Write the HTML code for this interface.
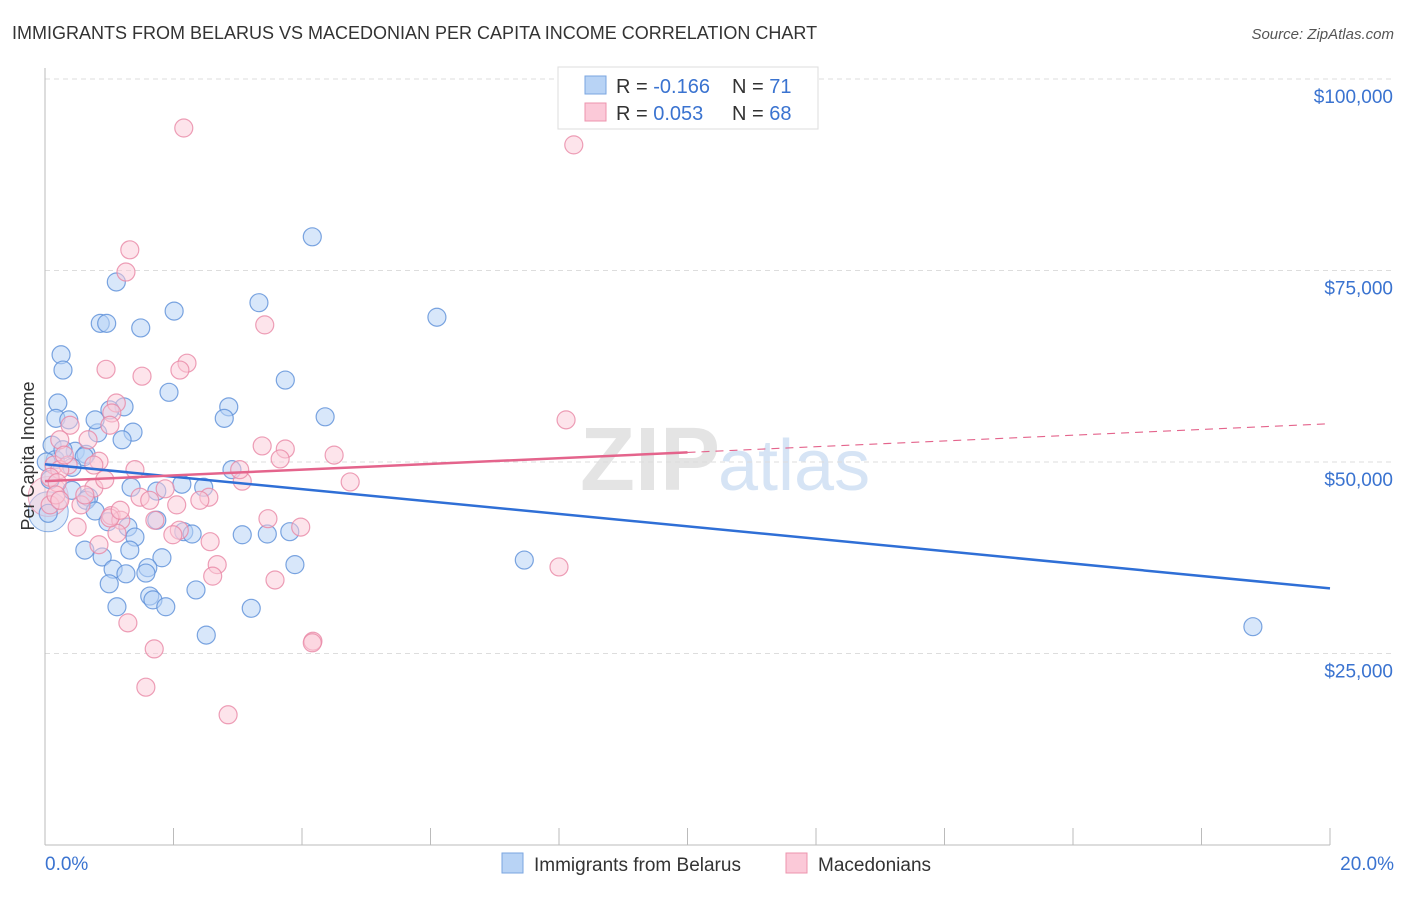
<!DOCTYPE html>
<html><head><meta charset="utf-8"><style>
body{margin:0;background:#fff;font-family:"Liberation Sans",sans-serif}
svg text{font-family:"Liberation Sans",sans-serif}
</style></head><body>
<svg id="chart" width="1406" height="892" viewBox="0 0 1406 892">
<text x="12" y="39" font-size="18" fill="#333">IMMIGRANTS FROM BELARUS VS MACEDONIAN PER CAPITA INCOME CORRELATION CHART</text>
<text x="1394" y="39" font-size="15" fill="#555" font-style="italic" text-anchor="end">Source: ZipAtlas.com</text>
<text x="720" y="490" font-size="90" fill="#e4e4e4" text-anchor="end" font-family="Liberation Serif" font-weight="bold">ZIP</text>
<text x="718" y="490" font-size="72" fill="#d6e4f5">atlas</text>
<g id="grid"></g>
<g id="axes"></g>
<g id="pts"></g>
<g id="trends"></g>
<text x="34" y="456" font-size="18" fill="#333" text-anchor="middle" transform="rotate(-90 34 456)">Per Capita Income</text>
<g>
<rect x="558" y="67" width="260" height="62" fill="#fff" stroke="#ddd"/>
<rect x="585" y="76" width="21" height="18" fill="#b8d3f5" stroke="#7aa6e0"/>
<rect x="585" y="103" width="21" height="18" fill="#fbc9d8" stroke="#ec94ae"/>
<text x="616" y="93" font-size="20" fill="#333">R = <tspan fill="#3a73d0">-0.166</tspan></text>
<text x="732" y="93" font-size="20" fill="#333">N = <tspan fill="#3a73d0"> 71</tspan></text>
<text x="616" y="120" font-size="20" fill="#333">R = <tspan fill="#3a73d0"> 0.053</tspan></text>
<text x="732" y="120" font-size="20" fill="#333">N = <tspan fill="#3a73d0">68</tspan></text>
</g>
<g>
<rect x="502" y="853" width="21" height="20" fill="#b8d3f5" stroke="#7aa6e0"/>
<text x="534" y="871" font-size="19" fill="#333">Immigrants from Belarus</text>
<rect x="786" y="853" width="21" height="20" fill="#fbc9d8" stroke="#ec94ae"/>
<text x="818" y="871" font-size="19" fill="#333">Macedonians</text>
</g>
</svg>
<script>
const yTicks=[25000,50000,75000,100000];
const yTickLabels=["$25,000","$50,000","$75,000","$100,000"];
const xTickLabels=["0.0%","20.0%"];
const blueX=[4.16,1.11,3.33,2.01,0.86,0.96,1.49,6.10,0.25,0.28,3.74,1.93,0.20,1.23,2.86,2.79,4.36,0.17,0.37,0.82,1.37,1.20,0.11,0.47,0.64,0.61,0.16,2.91,2.13,1.34,2.47,0.42,1.74,0.68,0.64,1.74,1.29,0.78,2.16,2.29,3.07,3.46,3.81,1.40,0.89,1.82,7.46,1.06,1.60,3.89,1.26,1.57,1.00,2.35,1.63,1.68,1.12,1.88,3.21,2.51,18.80,0.05,0.02,0.08,0.78,0.42,0.98,0.28,0.62,1.32,1.01];
const blueY=[79.4,73.5,70.8,69.7,68.1,68.1,67.5,68.9,64.0,62.0,60.7,59.1,57.7,57.2,57.2,55.7,55.9,55.7,55.5,53.8,53.9,52.9,52.2,51.4,51.0,50.7,50.3,49.0,47.1,46.7,46.7,46.3,46.2,45.4,45.0,42.4,41.5,43.6,40.9,40.6,40.5,40.6,40.9,40.2,37.6,37.5,37.2,36.0,36.2,36.6,35.4,35.5,34.1,33.3,32.5,32.0,31.1,31.1,30.9,27.4,28.5,43.3,50.0,47.7,55.5,49.3,42.2,51.6,38.5,38.5,56.8];
const pinkX=[2.16,8.23,1.32,1.26,3.42,2.21,0.95,1.51,2.10,1.11,1.04,8.11,1.01,0.39,0.23,3.38,3.74,3.66,4.50,0.14,0.36,0.84,0.76,0.23,0.08,0.19,4.75,3.07,0.76,2.55,1.87,1.48,2.05,0.56,0.62,1.03,1.18,1.71,0.08,3.47,3.98,2.09,0.50,1.12,2.57,0.84,2.68,8.00,2.61,3.58,1.29,4.17,4.16,1.70,1.57,2.85,1.01,1.63,2.41,0.30,0.67,1.99,3.03,1.40,0.17,0.93,0.23,1.17];
const pinkY=[93.6,91.4,77.7,74.8,67.9,62.9,62.1,61.2,62.0,57.7,56.4,55.5,54.8,54.8,52.9,52.1,51.7,50.4,50.9,49.6,49.6,50.1,49.6,49.0,48.0,47.3,47.4,47.5,46.6,45.4,46.5,45.4,44.4,44.4,45.7,43.0,42.4,42.4,44.4,42.6,41.5,41.1,41.5,40.7,39.6,39.2,36.6,36.3,35.1,34.6,29.0,26.6,26.4,25.6,20.6,17.0,42.7,45.0,45.0,50.9,52.9,40.5,49.0,49.0,45.7,47.7,45.0,43.7];
const blueTrend=[49.7,-0.81];
const pinkTrend=[47.5,0.375];
const NS="http://www.w3.org/2000/svg";
const X=v=>45+v*64.25, Y=v=>845-v*7.66;
function mk(tag,attrs,parent){const e=document.createElementNS(NS,tag);for(const k in attrs)e.setAttribute(k,attrs[k]);parent.appendChild(e);return e;}
const grid=document.getElementById('grid'),axes=document.getElementById('axes'),pts=document.getElementById('pts'),tr=document.getElementById('trends');
yTicks.forEach((t,i)=>{const y=Y(t/1000);
const g=mk('line',{x1:45,x2:1394,y1:y,y2:y,stroke:'#ddd','stroke-dasharray':'5,4'},grid);


const l=mk('text',{x:1393,y:y+24,'font-size':19,fill:'#3a73d0','text-anchor':'end'},grid);l.textContent=yTickLabels[i];

});
const gt=mk('line',{x1:45,x2:1394,y1:Y(100)-0,y2:Y(100),stroke:'#ddd','stroke-dasharray':'5,4'},grid);
mk('line',{x1:45,x2:45,y1:68,y2:845,stroke:'#bbb'},axes);
mk('line',{x1:45,x2:1330,y1:845,y2:845,stroke:'#bbb'},axes);
for(let i=0;i<=10;i++){const t=mk('line',{x1:X(i*2),x2:X(i*2),y1:828,y2:845,stroke:'#bbb'},axes);

}
[[0,'start',45],[20,'end',1394]].forEach((a,i)=>{const l=mk('text',{x:a[2],y:870,'font-size':19,fill:'#3a73d0','text-anchor':a[1]},axes);l.textContent=xTickLabels[i];

});
function big(x,y,fill,stroke){const c=mk('circle',{cx:X(x),cy:Y(y),r:20,fill:fill,'fill-opacity':0.45,stroke:stroke,'stroke-opacity':0.7},pts);

}
big(0.05,43.5,'#b8d3f5','#5b8fd8');big(0.05,45.5,'#fbc9d8','#e887a5');
blueX.forEach((x,i)=>{const c=mk('circle',{cx:X(x),cy:Y(blueY[i]),r:9,fill:'#b8d3f5','fill-opacity':0.55,stroke:'#5b8fd8','stroke-opacity':0.8,'stroke-width':1.2},pts);

});
pinkX.forEach((x,i)=>{const c=mk('circle',{cx:X(x),cy:Y(pinkY[i]),r:9,fill:'#fbc9d8','fill-opacity':0.5,stroke:'#e887a5','stroke-opacity':0.8,'stroke-width':1.2},pts);

});
const bl=mk('line',{x1:X(0),y1:Y(blueTrend[0]),x2:X(20),y2:Y(blueTrend[0]+20*blueTrend[1]),stroke:'#2f6fd6','stroke-width':2.5},tr);


const pl=mk('line',{x1:X(0),y1:Y(pinkTrend[0]),x2:X(10),y2:Y(pinkTrend[0]+10*pinkTrend[1]),stroke:'#e4648c','stroke-width':2.5},tr);


const pd=mk('line',{x1:X(10),y1:Y(pinkTrend[0]+10*pinkTrend[1]),x2:X(20),y2:Y(pinkTrend[0]+20*pinkTrend[1]),stroke:'#e4648c','stroke-width':1.2,'stroke-dasharray':'8,6'},tr);


</script>
</body></html>
